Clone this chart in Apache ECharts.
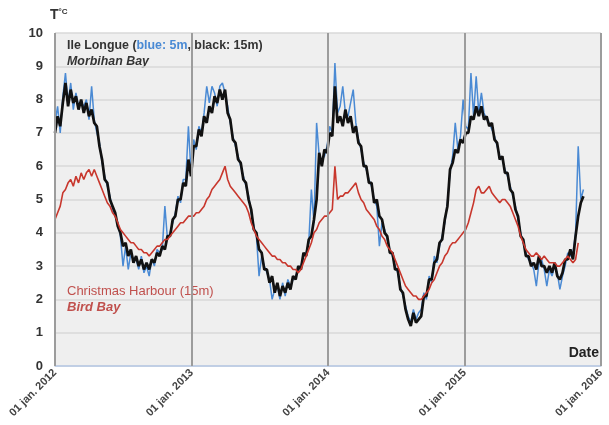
<!DOCTYPE html>
<html><head><meta charset="utf-8">
<script src="https://cdn.jsdelivr.net/npm/echarts@6/dist/echarts.min.js"></script>
<style>html,body{margin:0;padding:0;background:#fff}#c{width:609px;height:425px}</style>
</head><body><div id="c"></div>
<script>
// Year ticks / labels on the date axis
const yearTicks = [2012, 2013, 2014, 2015, 2016];
const yearLabels = ['01 jan. 2012', '01 jan. 2013', '01 jan. 2014', '01 jan. 2015', '01 jan. 2016'];
// Sampling: one value per week, starting 01 jan. 2012
const firstYear = 2012;
const stepDays = 7;

// Ile Longue, 5 m (blue)
const blue5m = [
7.3,7.8,7.0,8.1,8.8,7.9,8.5,7.7,8.2,7.8,
7.9,7.8,8.0,7.4,8.4,7.4,7.0,6.7,6.1,5.7,
5.4,5.1,4.7,4.5,4.3,3.9,3.0,3.6,2.9,3.4,
3.2,3.2,2.9,3.3,2.8,3.0,2.7,3.2,3.0,3.5,
3.4,3.5,4.8,3.8,4.0,4.3,4.6,5.1,4.9,5.6,
5.6,7.2,5.8,
6.8,6.5,7.2,7.0,7.6,8.4,7.9,8.4,8.2,7.8,
8.4,8.5,8.2,7.8,7.3,6.9,6.6,6.3,6.0,5.7,
5.4,5.1,4.6,4.2,3.9,2.7,3.3,3.0,2.8,2.6,
2.0,2.3,2.4,2.0,2.5,2.1,2.6,2.4,2.6,2.7,
2.9,3.0,3.3,3.4,3.7,5.3,4.3,7.3,6.3,6.2,
6.3,6.6,
7.2,7.0,9.1,7.6,7.8,8.4,7.6,7.5,7.9,8.3,
7.3,6.8,6.5,6.1,5.9,5.6,5.4,5.0,4.8,3.6,
4.3,4.1,3.8,3.5,3.3,3.0,2.8,2.4,2.1,1.8,
1.5,1.3,1.7,1.4,1.6,1.7,2.2,2.0,2.7,2.5,
3.3,3.1,3.6,3.9,4.3,4.9,5.8,6.3,7.3,6.5,
6.9,8.0,
7.2,7.1,8.8,7.5,8.7,7.6,8.2,7.6,7.4,7.3,
7.1,6.9,6.6,6.3,6.2,5.9,5.7,5.4,5.1,4.8,
4.4,4.0,3.7,3.4,3.2,3.1,2.9,2.4,3.1,3.2,
2.9,2.4,2.9,2.7,3.0,2.8,2.3,2.7,3.0,3.4,
3.3,3.4,4.0,6.6,5.0,5.3
];

// Ile Longue, 15 m (black)
const black15m = [
7.0,7.5,7.2,7.9,8.5,7.8,8.3,7.9,8.1,7.7,
8.0,7.6,7.9,7.5,7.7,7.3,7.2,6.6,6.2,5.6,
5.5,5.0,4.8,4.6,4.2,4.0,3.6,3.7,3.3,3.5,
3.1,3.3,3.0,3.2,2.9,3.1,2.9,3.2,3.1,3.4,
3.3,3.6,3.5,3.9,3.9,4.4,4.5,5.0,5.0,5.5,
5.4,6.2,5.7,
6.6,6.6,7.1,6.9,7.5,7.3,7.8,7.6,8.1,7.9,
8.3,8.0,8.3,7.6,7.4,6.8,6.7,6.2,6.1,5.6,
5.5,5.0,4.7,4.1,4.0,3.5,3.4,2.9,2.9,2.5,
2.7,2.2,2.5,2.1,2.4,2.2,2.5,2.3,2.7,2.6,
3.0,2.9,3.4,3.3,3.8,3.9,4.4,5.0,6.4,6.0,
6.5,6.4,
7.0,6.9,8.4,7.3,7.5,7.2,7.7,7.3,7.5,7.0,
7.2,6.7,6.6,6.0,6.0,5.5,5.5,4.9,5.0,4.5,
4.4,4.0,3.9,3.4,3.4,2.9,2.9,2.3,2.2,1.7,
1.4,1.2,1.6,1.3,1.4,1.5,2.1,2.1,2.6,2.6,
3.1,3.2,3.7,3.8,4.4,4.8,5.9,6.1,6.5,6.4,
6.8,6.7,
7.0,7.0,7.5,7.4,7.8,7.5,7.8,7.4,7.5,7.2,
7.3,6.8,6.7,6.2,6.3,5.8,5.8,5.3,5.2,4.7,
4.5,3.9,3.8,3.3,3.3,3.0,3.1,2.9,3.3,3.0,
3.0,2.8,3.0,2.8,3.1,2.7,2.6,2.8,3.2,3.2,
3.5,3.2,3.9,4.5,4.9,5.1
];

// Christmas Harbour, 15 m (red)
const red15m = [
4.4,4.6,4.8,5.2,5.3,5.5,5.6,5.4,5.7,5.5,
5.8,5.6,5.8,5.9,5.7,5.9,5.7,5.5,5.3,5.1,
4.9,4.8,4.6,4.5,4.3,4.1,4.0,3.9,3.8,3.7,
3.7,3.6,3.5,3.5,3.4,3.4,3.3,3.4,3.5,3.6,
3.6,3.7,3.8,3.8,3.9,4.0,4.1,4.2,4.3,4.3,
4.4,4.5,4.5,
4.5,4.6,4.6,4.7,4.8,5.0,5.1,5.3,5.4,5.5,
5.6,5.8,6.0,5.6,5.4,5.3,5.2,5.1,5.0,4.9,
4.8,4.6,4.3,4.1,3.9,3.8,3.7,3.6,3.5,3.4,
3.3,3.3,3.2,3.2,3.1,3.1,3.0,3.0,2.9,2.9,
2.8,2.9,3.1,3.3,3.5,3.7,4.0,4.1,4.3,4.4,
4.5,4.5,
4.6,4.7,6.0,5.0,5.1,5.1,5.2,5.2,5.3,5.4,
5.5,5.2,5.0,4.9,4.7,4.6,4.5,4.4,4.2,4.1,
3.9,3.8,3.6,3.5,3.4,3.2,3.0,2.8,2.6,2.4,
2.3,2.2,2.1,2.1,2.0,2.0,2.1,2.2,2.3,2.5,
2.6,2.8,3.0,3.1,3.3,3.4,3.6,3.7,3.7,3.8,
3.9,4.0,
4.1,4.3,4.6,4.9,5.3,5.4,5.2,5.2,5.3,5.4,
5.2,5.1,5.0,4.9,5.0,5.0,4.9,4.8,4.6,4.4,
4.2,3.9,3.7,3.5,3.4,3.3,3.3,3.4,3.3,3.2,
3.3,3.2,3.1,3.1,3.1,3.0,3.0,3.1,3.2,3.3,
3.2,3.1,3.2,3.7
];

const t0 = new Date(firstYear, 0, 1).getTime();
const DAY = 86400000;
const toPairs = arr => arr.map((v, i) => [t0 + i * stepDays * DAY, v]);
const tickTimes = yearTicks.map(y => new Date(y, 0, 1).getTime());

const chart = echarts.init(document.getElementById('c'), null, {renderer: 'canvas'});
const FONT = 'Liberation Sans';
chart.setOption({
  animation: false,
  backgroundColor: '#ffffff',
  grid: {left: 55, right: 8, top: 33, bottom: 59, show: true, backgroundColor: '#efefef', borderWidth: 0},
  xAxis: {
    type: 'value',
    min: tickTimes[0], max: tickTimes[tickTimes.length - 1],
    axisLine: {show: true, lineStyle: {color: '#b7c9e6', width: 1.5}},
    axisTick: {show: false},
    splitLine: {show: false},
    axisLabel: {
      customValues: tickTimes,
      rotate: 45, margin: 5,
      fontFamily: FONT, fontSize: 11, fontWeight: 'bold', color: '#444',
      formatter: v => yearLabels[yearTicks.indexOf(new Date(v).getFullYear())]
    }
  },
  yAxis: {
    type: 'value', min: 0, max: 10, interval: 1,
    axisLine: {show: false}, axisTick: {show: false},
    splitLine: {lineStyle: {color: '#d8d8d8', width: 1.5}},
    axisLabel: {fontFamily: FONT, fontSize: 13, fontWeight: 'bold', color: '#333', margin: 12}
  },
  graphic: [
    {type: 'text', left: 50, top: 8, style: {
      text: '{t|T}{s|°C}', rich: {
        t: {fontFamily: FONT, fontSize: 14, fontWeight: 'bold', fill: '#333'},
        s: {fontFamily: FONT, fontSize: 8, fontWeight: 'bold', fill: '#333', verticalAlign: 'top', padding: [0,0,6,0]}
      }}},
    {type: 'text', left: 67, top: 40, style: {
      text: '{k|Ile Longue (}{b|blue: 5m}{k|, black: 15m)}', rich: {
        k: {fontFamily: FONT, fontSize: 12.4, fontWeight: 'bold', fill: '#333'},
        b: {fontFamily: FONT, fontSize: 12.4, fontWeight: 'bold', fill: '#4a8ad4'}
      }}},
    {type: 'text', left: 67, top: 56, style: {
      text: 'Morbihan Bay', fontFamily: FONT, fontSize: 12.4, fontWeight: 'bold', fontStyle: 'italic', fill: '#333'}},
    {type: 'text', left: 67, top: 285, style: {
      text: 'Christmas Harbour (15m)', fontFamily: FONT, fontSize: 13, fill: '#c0504d'}},
    {type: 'text', left: 67, top: 301, style: {
      text: 'Bird Bay', fontFamily: FONT, fontSize: 13, fontWeight: 'bold', fontStyle: 'italic', fill: '#c0504d'}},
    {type: 'text', right: 10, top: 346, style: {
      text: 'Date', fontFamily: FONT, fontSize: 14, fontWeight: 'bold', fill: '#222'}}
  ],
  series: [
    {
      name: 'Ile Longue 5m', type: 'line', data: toPairs(blue5m), showSymbol: false,
      lineStyle: {color: '#4a8ad4', width: 1.5}, itemStyle: {color: '#4a8ad4'},
      markLine: {
        silent: true, symbol: 'none', label: {show: false},
        lineStyle: {color: '#9c9c9c', width: 2, type: 'solid'},
        data: tickTimes.map(t => ({xAxis: t}))
      }
    },
    {
      name: 'Ile Longue 15m', type: 'line', data: toPairs(black15m), showSymbol: false,
      lineStyle: {color: '#111111', width: 2.7}, itemStyle: {color: '#111'}
    },
    {
      name: 'Christmas Harbour 15m', type: 'line', data: toPairs(red15m), showSymbol: false,
      lineStyle: {color: '#c8372d', width: 1.6}, itemStyle: {color: '#c8372d'}
    }
  ]
});
</script>
</body></html>
